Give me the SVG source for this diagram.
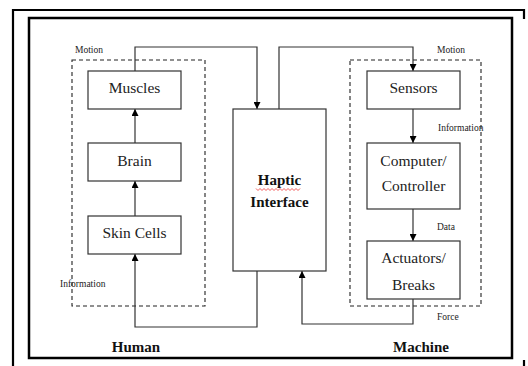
<svg xmlns="http://www.w3.org/2000/svg" width="528" height="366" viewBox="0 0 528 366">
<defs>
<marker id="ah" viewBox="0 0 10 10" refX="10" refY="5" markerWidth="7" markerHeight="7" markerUnits="userSpaceOnUse" orient="auto">
<path d="M0,0 L10,5 L0,10 z" fill="#000"/>
</marker>
</defs>
<style>
text{font-family:'Liberation Serif','Times New Roman',serif}
.box{fill:#fff;stroke:#333;stroke-width:1.2}
.t{font-size:15.5px;fill:#222;text-anchor:middle}
.b{font-size:15px;font-weight:bold;fill:#111;text-anchor:middle}
.s{font-size:9.5px;fill:#222}
.dash{fill:none;stroke:#222;stroke-width:1.1;stroke-dasharray:4,3}
.c{fill:none;stroke:#333;stroke-width:1.2;marker-end:url(#ah)}
.frame{fill:none;stroke:#000}
</style>
<rect width="528" height="366" fill="#fff"/>
<g id="frame">
<path class="frame" stroke-width="2.2" d="M13,366 V10 H524 V19"/>
<path class="frame" stroke-width="2.2" d="M524,360 V366"/>
<rect class="frame" stroke-width="2.5" x="29" y="18" width="483" height="340"/>
</g>
<g id="human-group">
<rect class="dash" x="72" y="60" width="133" height="246"/>
<text class="s" x="75" y="52.5">Motion</text>
<text class="s" x="60" y="287">Information</text>
<text class="b" x="136" y="352">Human</text>
</g>
<g id="machine-group">
<rect class="dash" x="350" y="60" width="131" height="246"/>
<text class="s" x="437" y="52.5">Motion</text>
<text class="s" x="438" y="131">Information</text>
<text class="s" x="437" y="230">Data</text>
<text class="s" x="437" y="320">Force</text>
<text class="b" x="421" y="352">Machine</text>
</g>
<g id="connectors">
<path class="c" d="M135,143 V109"/>
<path class="c" d="M135,216 V181"/>
<path class="c" d="M135,71 V47 H257 V109"/>
<path class="c" d="M279,109 V47 H413 V71"/>
<path class="c" d="M257,271 V327 H135 V254"/>
<path class="c" d="M413,299 V324 H302 V271"/>
<path class="c" d="M413,109 V143"/>
<path class="c" d="M413,209 V241"/>
</g>
<g id="muscles">
<rect class="box" x="88" y="71" width="93" height="38"/>
<text class="t" x="134.5" y="93">Muscles</text>
</g>
<g id="brain">
<rect class="box" x="88" y="143" width="93" height="38"/>
<text class="t" x="134.5" y="166">Brain</text>
</g>
<g id="skin-cells">
<rect class="box" x="88" y="216" width="93" height="38"/>
<text class="t" x="134.5" y="238">Skin Cells</text>
</g>
<g id="haptic-interface">
<rect class="box" x="233" y="109" width="93" height="162"/>
<text class="b" x="279.5" y="185">Haptic</text>
<path d="M256,188.5 l2,2 l2,-2 l2,2 l2,-2 l2,2 l2,-2 l2,2 l2,-2 l2,2 l2,-2 l2,2 l2,-2 l2,2 l2,-2 l2,2 l2,-2 l2,2 l2,-2 l2,2 l2,-2 l2,2 l2,-2" fill="none" stroke="#e33" stroke-width="0.8"/>
<text class="b" x="279.5" y="207">Interface</text>
</g>
<g id="sensors">
<rect class="box" x="367" y="71" width="93" height="38"/>
<text class="t" x="413.5" y="93">Sensors</text>
</g>
<g id="computer-controller">
<rect class="box" x="367" y="143" width="93" height="66"/>
<text class="t" x="413.5" y="166">Computer/</text>
<text class="t" x="413.5" y="191">Controller</text>
</g>
<g id="actuators-breaks">
<rect class="box" x="367" y="241" width="93" height="58"/>
<text class="t" x="413.5" y="263">Actuators/</text>
<text class="t" x="413.5" y="290">Breaks</text>
</g>
</svg>
